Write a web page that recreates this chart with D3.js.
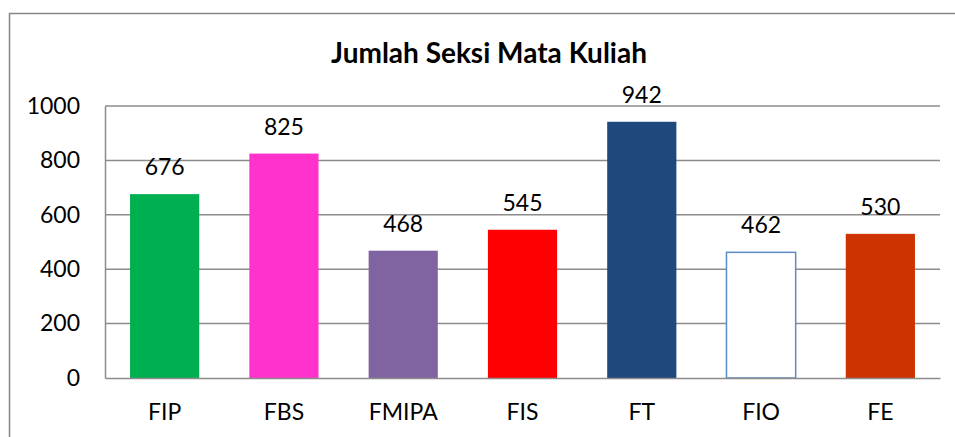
<!DOCTYPE html>
<html>
<head>
<meta charset="utf-8">
<script src="https://cdn.jsdelivr.net/npm/d3@7"></script>
<style>
  body { margin: 0; background: #fff; }
  svg { display: block; font-family: Lato, "Open Sans", sans-serif; }
</style>
</head>
<body>
<svg id="chart"></svg>
<script>
const categories = ["FIP", "FBS", "FMIPA", "FIS", "FT", "FIO", "FE"];
const values = [676, 825, 468, 545, 942, 462, 530];
const barColors = ["#00B050", "#FF33CC", "#8064A2", "#FF0000", "#1F497D", "#FFFFFF", "#CC3300"];
const yTicks = [0, 200, 400, 600, 800, 1000];
const title = "Jumlah Seksi Mata Kuliah";

const W = 955, H = 437;
const margin = { top: 106, right: 15, bottom: 59, left: 105 };
const width = W - margin.left - margin.right;
const height = H - margin.top - margin.bottom;

const svg = d3.select("#chart")
  .attr("width", W)
  .attr("height", H);

// outer chart frame
svg.append("rect")
  .attr("x", 9.5)
  .attr("y", 13.5)
  .attr("width", W + 10)
  .attr("height", H + 10)
  .attr("fill", "none")
  .attr("stroke", "#868686")
  .attr("stroke-width", 1.5);

svg.append("text")
  .attr("x", 489)
  .attr("y", 63)
  .attr("text-anchor", "middle")
  .attr("font-size", "28px")
  .attr("font-weight", "bold")
  .attr("fill", "#000")
  .text(title);

const g = svg.append("g")
  .attr("transform", `translate(${margin.left},${margin.top})`);

const x = d3.scaleBand()
  .domain(categories)
  .range([0, width])
  .paddingInner(0.42)
  .paddingOuter(0.21);

const y = d3.scaleLinear()
  .domain([0, 1000])
  .range([height, 0]);

// gridlines
g.selectAll("line.grid")
  .data(yTicks.filter(d => d > 0))
  .enter()
  .append("line")
  .attr("class", "grid")
  .attr("x1", 0)
  .attr("x2", width)
  .attr("y1", d => y(d))
  .attr("y2", d => y(d))
  .attr("stroke", "#8c8c8c")
  .attr("stroke-width", 1.5);

// y axis
const yAxis = g.append("g")
  .call(d3.axisLeft(y).tickValues(yTicks).tickFormat(d3.format("d")).tickSize(0).tickPadding(25));
yAxis.select(".domain").attr("stroke", "#8c8c8c").attr("stroke-width", 1.5);
yAxis.selectAll("text")
  .style("font-size", "23px")
  .style("font-family", "Lato, sans-serif")
  .attr("fill", "#000");

// bars
g.selectAll("rect.bar")
  .data(values)
  .enter()
  .append("rect")
  .attr("class", "bar")
  .attr("x", (d, i) => x(categories[i]))
  .attr("y", d => y(d))
  .attr("width", x.bandwidth())
  .attr("height", d => height - y(d))
  .attr("fill", (d, i) => barColors[i])
  .attr("stroke", (d, i) => barColors[i] === "#FFFFFF" ? "#5B8BC9" : "none")
  .attr("stroke-width", 1.5);

// x axis
const xAxis = g.append("g")
  .attr("transform", `translate(0,${height})`)
  .call(d3.axisBottom(x).tickSize(0).tickPadding(26));
xAxis.select(".domain").attr("stroke", "#8c8c8c").attr("stroke-width", 1.5);
xAxis.selectAll("text")
  .style("font-size", "23px")
  .style("font-family", "Lato, sans-serif")
  .attr("fill", "#000");

// value labels
g.selectAll("text.label")
  .data(values)
  .enter()
  .append("text")
  .attr("class", "label")
  .attr("x", (d, i) => x(categories[i]) + x.bandwidth() / 2)
  .attr("y", d => y(d) - 19)
  .attr("text-anchor", "middle")
  .attr("font-size", "23px")
  .attr("fill", "#000")
  .text(d => d);
</script>
</body>
</html>
